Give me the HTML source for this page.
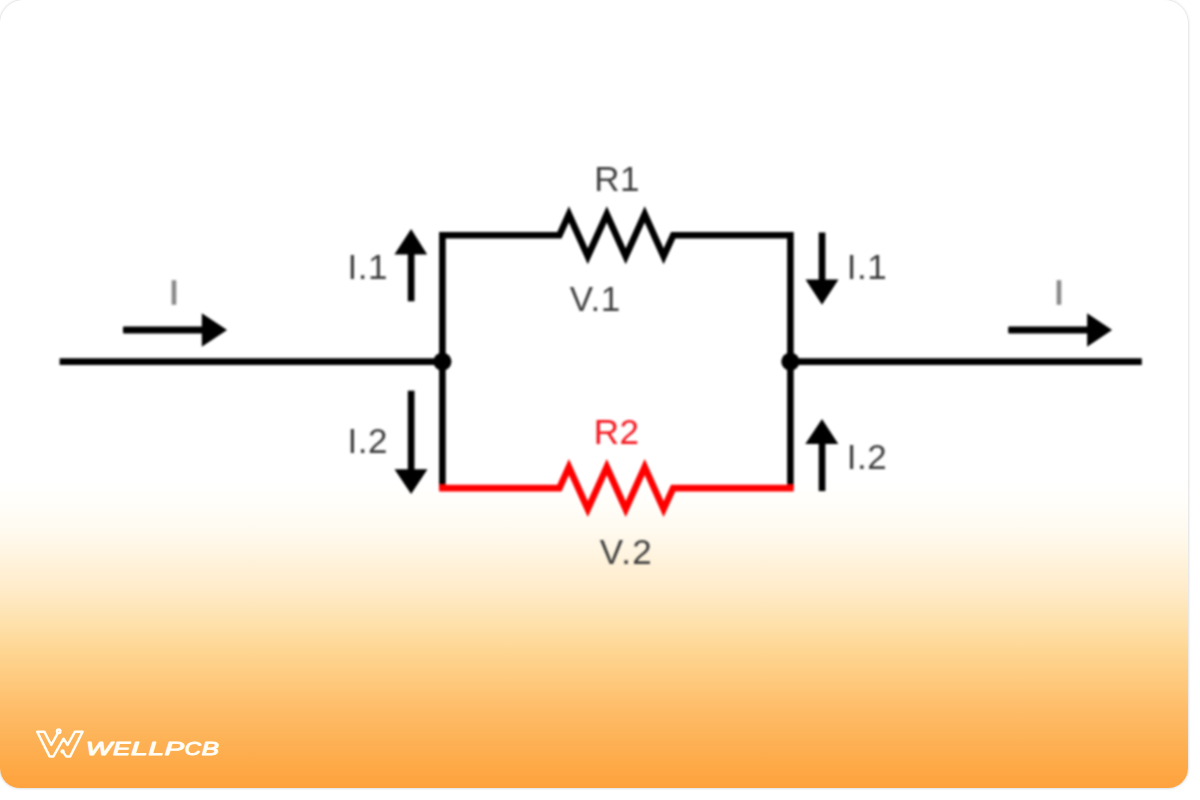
<!DOCTYPE html>
<html lang="en">
<head>
<meta charset="utf-8">
<title>Parallel resistor circuit</title>
<style>
  html, body { margin: 0; padding: 0; background: #ffffff; }
  body { width: 1200px; height: 800px; overflow: hidden; position: relative;
         font-family: "Liberation Sans", sans-serif; }
  .card {
    position: absolute; left: 0; top: 0; width: 1188px; height: 788px;
    border-radius: 24px 24px 20px 20px;
    background: linear-gradient(to bottom, #ffffff 0px, #ffffff 479px, #fffefa 500px, #fffaf0 530px, #fff3dc 560px, #ffebc9 590px, #fee2ae 620px, #fed693 650px, #feca7e 680px, #febc68 710px, #fdb256 740px, #fea845 770px, #fea23e 788px);
    box-shadow: 0 0 3px rgba(0,0,0,0.25);
  }
  svg.art { position: absolute; left: 0; top: 0; }
  svg.art text { font-family: "Liberation Sans", sans-serif; }
</style>
</head>
<body>
<div class="card"></div>
<svg class="art" width="1200" height="800" viewBox="0 0 1200 800">
  <defs>
    <filter id="soft" filterUnits="userSpaceOnUse" x="0" y="0" width="1200" height="800">
      <feGaussianBlur stdDeviation="0.9"/>
    </filter>
    <filter id="soft2" filterUnits="userSpaceOnUse" x="0" y="0" width="1200" height="800">
      <feGaussianBlur stdDeviation="0.9"/>
    </filter>
  </defs>
  <g filter="url(#soft)">
  <!-- black wires -->
  <g fill="none" stroke="#000" stroke-width="6.6" stroke-linejoin="miter" stroke-linecap="butt">
    <path d="M59.6 361.6 H442.4"/>
    <path d="M790.4 361.6 H1141.8"/>
    <!-- top branch with R1 -->
    <path d="M442.4 488.1 V235.3 H559.4 L568.9 214.3 L587.8 256.3 L606.8 214.3 L625.7 256.3 L644.7 214.3 L663.6 256.3 L673.2 235.3 H790.4 V488.1"/>
  </g>
  <!-- red branch with R2 -->
  <g fill="none" stroke="#ff0000" stroke-width="6.6" stroke-linejoin="miter" stroke-linecap="butt">
    <path d="M439.1 488.1 H559.4 L568.9 467.1 L587.8 509.1 L606.8 467.1 L625.7 509.1 L644.7 467.1 L663.6 509.1 L673.2 488.1 H793.7"/>
  </g>
  <!-- nodes -->
  <circle cx="442.4" cy="361.6" r="9.1" fill="#000"/>
  <circle cx="790.4" cy="361.6" r="9.1" fill="#000"/>

  <!-- arrows -->
  <g fill="#000" stroke="none">
    <!-- left I -->
    <rect x="123" y="326.6" width="82" height="6.8" rx="1"/>
    <polygon points="201.8,313.3 227.1,330.0 201.8,346.7"/>
    <!-- right I -->
    <rect x="1008.2" y="326.6" width="82" height="6.8" rx="1"/>
    <polygon points="1087.1,313.3 1112.1,330.0 1087.1,346.7"/>
    <!-- I.1 left (up) -->
    <rect x="407.8" y="251" width="6.7" height="50.3"/>
    <polygon points="394.4,254.4 411.1,229.0 427.2,254.4"/>
    <!-- I.1 right (down) -->
    <rect x="818.7" y="232.5" width="6.7" height="50"/>
    <polygon points="805.5,279.5 838.5,279.5 822.0,304.7"/>
    <!-- I.2 left (down) -->
    <rect x="407.8" y="390.7" width="6.7" height="82"/>
    <polygon points="394.5,469.2 427.5,469.2 411.1,493.9"/>
    <!-- I.2 right (up) -->
    <rect x="818.7" y="441" width="6.7" height="50.1"/>
    <polygon points="805.3,444.1 822.0,419.0 838.3,444.1"/>
  </g>

  <!-- labels -->
  <g font-size="35" fill="#3d3d3d" letter-spacing="0.55">
    <text x="594.3" y="191">R1</text>
    <text x="569.8" y="311.3">V.1</text>
    <text x="599.8" y="563.7" letter-spacing="1.3">V.2</text>
    <text x="593.8" y="443.7" fill="#f4141c">R2</text>
    <text x="347.4" y="279.3">I.1</text>
    <text x="846.8" y="279.3">I.1</text>
    <text x="347.4" y="453.2">I.2</text>
    <text x="846.8" y="468.7">I.2</text>
  </g>
  <g font-size="34" fill="#8a8a8a" stroke="#8a8a8a" stroke-width="1.4">
    <text x="169.3" y="303.7">I</text>
    <text x="1054.3" y="303.7">I</text>
  </g>
  </g>

  <!-- logo -->
  <g>
  <g fill="none" stroke="#fffdf6" stroke-width="2.5" stroke-linejoin="round" stroke-linecap="round">
    <path d="M57.9 732.8 L51.3 745 L44.3 731.7 H37.2 L49.6 756.4 H53.4 L63.6 738.7 L67.6 745 L75 731.7 H82.6 L70.2 756.4 H66.2 L63.4 752.4"/>
    <circle cx="58.7" cy="731.2" r="1.7"/>
  </g>
  <circle cx="62.6" cy="751.4" r="2.2" fill="#fffdf6"/>
  <text y="754.6" font-size="18.2" font-style="italic" fill="#fffdf6" stroke="#fffdf6" stroke-width="0.95" stroke-linejoin="round"><tspan x="86.05" textLength="26.25" lengthAdjust="spacingAndGlyphs">W</tspan><tspan x="112.90" textLength="17.55" lengthAdjust="spacingAndGlyphs">E</tspan><tspan x="131.05" textLength="16.90" lengthAdjust="spacingAndGlyphs">L</tspan><tspan x="148.55" textLength="15.65" lengthAdjust="spacingAndGlyphs">L</tspan><tspan x="164.80" textLength="19.40" lengthAdjust="spacingAndGlyphs">P</tspan><tspan x="184.80" textLength="16.30" lengthAdjust="spacingAndGlyphs">C</tspan><tspan x="201.70" textLength="17.30" lengthAdjust="spacingAndGlyphs">B</tspan></text>
  </g>
</svg>
</body>
</html>
